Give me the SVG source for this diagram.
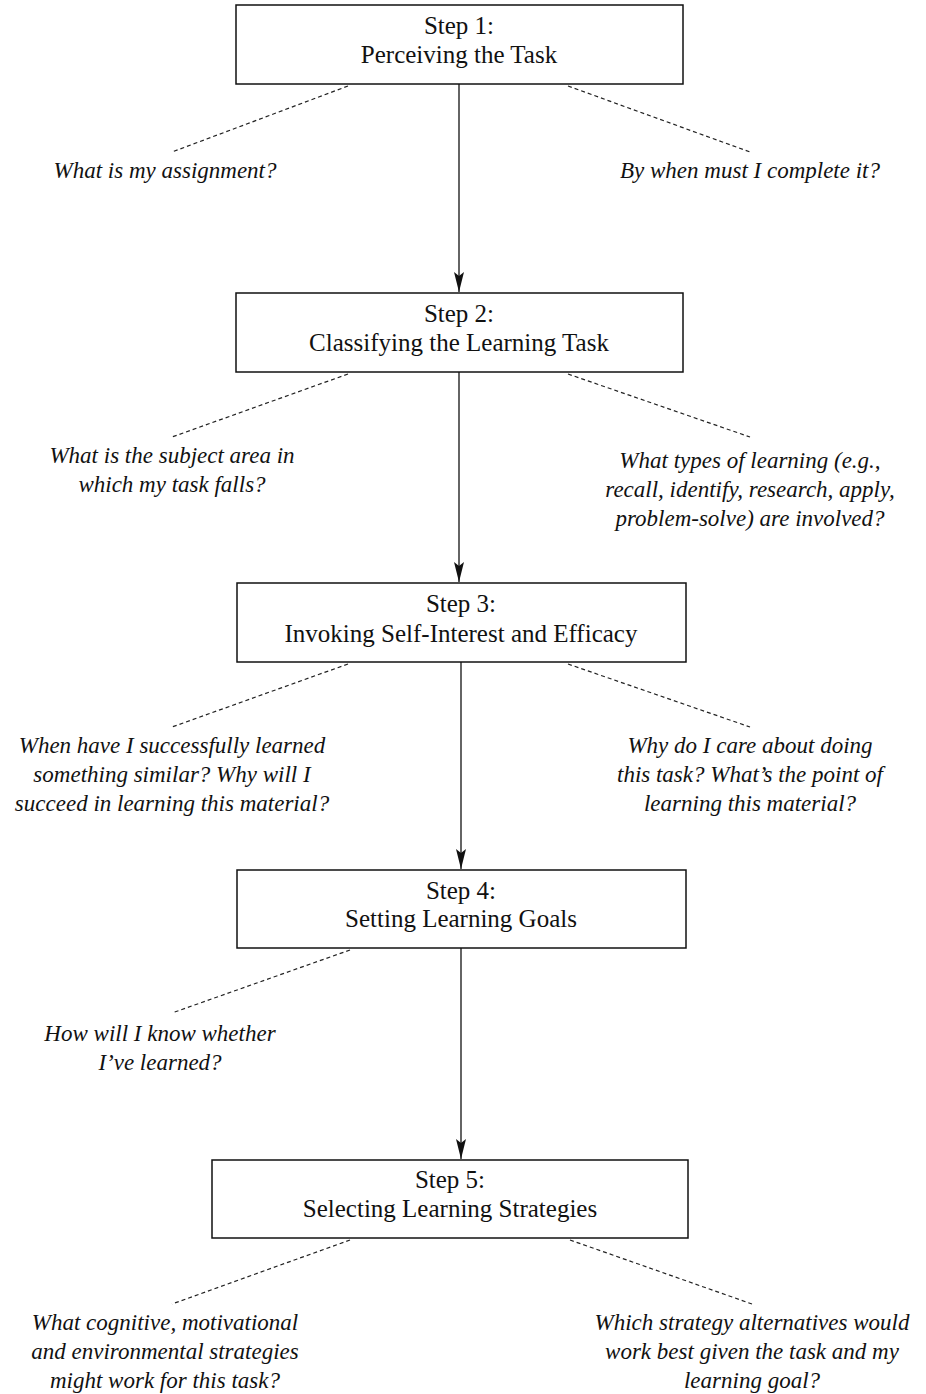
<svg xmlns="http://www.w3.org/2000/svg" width="926" height="1394" viewBox="0 0 926 1394">
<style>
.box{fill:#fff;stroke:#111;stroke-width:1.5}
.bt{font-family:"Liberation Serif",serif;font-size:25px;fill:#111;text-anchor:middle}
.q{font-family:"Liberation Serif",serif;font-style:italic;font-size:23px;fill:#111;text-anchor:middle}
.dash{stroke:#222;stroke-width:1.2;stroke-dasharray:4 3;fill:none}
.arr{stroke:#111;stroke-width:1.3;fill:none}
</style>
<defs>
<marker id="ah" markerWidth="22" markerHeight="10" refX="20" refY="5" orient="auto" markerUnits="userSpaceOnUse" viewBox="0 0 22 10">
<path d="M0,0 L20,5 L0,10 L4,5 Z" fill="#111"/>
</marker>
</defs>
<rect width="926" height="1394" fill="#fff"/>
<g id="connectors">
<line class="arr" x1="459" y1="84" x2="459" y2="292" marker-end="url(#ah)"/>
<line class="arr" x1="459" y1="372" x2="459" y2="582" marker-end="url(#ah)"/>
<line class="arr" x1="461" y1="662" x2="461" y2="869" marker-end="url(#ah)"/>
<line class="arr" x1="461" y1="948" x2="461" y2="1159" marker-end="url(#ah)"/>
<line class="dash" x1="348" y1="86" x2="172" y2="152"/>
<line class="dash" x1="568" y1="86" x2="750" y2="152"/>
<line class="dash" x1="348" y1="374" x2="172" y2="437"/>
<line class="dash" x1="568" y1="374" x2="750" y2="437"/>
<line class="dash" x1="348" y1="664" x2="172" y2="727"/>
<line class="dash" x1="568" y1="664" x2="750" y2="727"/>
<line class="dash" x1="350" y1="950" x2="172" y2="1013"/>
<line class="dash" x1="350" y1="1240" x2="172" y2="1304"/>
<line class="dash" x1="570" y1="1240" x2="752" y2="1304"/>
</g>
<g id="step1">
<rect class="box" x="236" y="5" width="447" height="79"/>
<text class="bt" x="459" y="34">Step 1:</text>
<text class="bt" x="459" y="63">Perceiving the Task</text>
</g>
<g id="q1a"><text class="q" x="165" y="178">What is my assignment?</text></g>
<g id="q1b"><text class="q" x="750" y="178">By when must I complete it?</text></g>
<g id="step2">
<rect class="box" x="236" y="293" width="447" height="79"/>
<text class="bt" x="459" y="322">Step 2:</text>
<text class="bt" x="459" y="351">Classifying the Learning Task</text>
</g>
<g id="q2a">
<text class="q" x="172" y="463">What is the subject area in</text>
<text class="q" x="172" y="492">which my task falls?</text>
</g>
<g id="q2b">
<text class="q" x="750" y="468">What types of learning (e.g.,</text>
<text class="q" x="750" y="497">recall, identify, research, apply,</text>
<text class="q" x="750" y="526">problem-solve) are involved?</text>
</g>
<g id="step3">
<rect class="box" x="237" y="583" width="449" height="79"/>
<text class="bt" x="461" y="612">Step 3:</text>
<text class="bt" x="461" y="642">Invoking Self-Interest and Efficacy</text>
</g>
<g id="q3a">
<text class="q" x="172" y="753">When have I successfully learned</text>
<text class="q" x="172" y="782">something similar? Why will I</text>
<text class="q" x="172" y="811">succeed in learning this material?</text>
</g>
<g id="q3b">
<text class="q" x="750" y="753">Why do I care about doing</text>
<text class="q" x="750" y="782">this task? What’s the point of</text>
<text class="q" x="750" y="811">learning this material?</text>
</g>
<g id="step4">
<rect class="box" x="237" y="870" width="449" height="78"/>
<text class="bt" x="461" y="899">Step 4:</text>
<text class="bt" x="461" y="927">Setting Learning Goals</text>
</g>
<g id="q4a">
<text class="q" x="160" y="1041">How will I know whether</text>
<text class="q" x="160" y="1070">I’ve learned?</text>
</g>
<g id="step5">
<rect class="box" x="212" y="1160" width="476" height="78"/>
<text class="bt" x="450" y="1188">Step 5:</text>
<text class="bt" x="450" y="1217">Selecting Learning Strategies</text>
</g>
<g id="q5a">
<text class="q" x="165" y="1330">What cognitive, motivational</text>
<text class="q" x="165" y="1359">and environmental strategies</text>
<text class="q" x="165" y="1388">might work for this task?</text>
</g>
<g id="q5b">
<text class="q" x="752" y="1330">Which strategy alternatives would</text>
<text class="q" x="752" y="1359">work best given the task and my</text>
<text class="q" x="752" y="1388">learning goal?</text>
</g>
</svg>
